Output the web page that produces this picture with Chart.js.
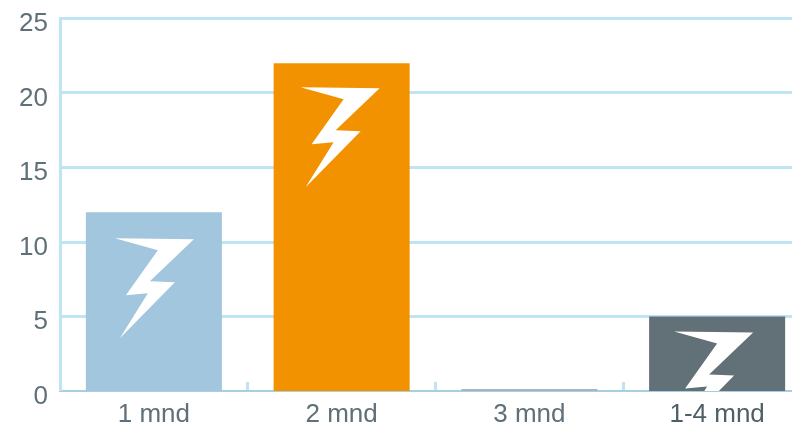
<!DOCTYPE html>
<html>
<head>
<meta charset="utf-8">
<style>
  html, body { margin: 0; padding: 0; background: #fff; overflow: hidden; }
  #wrap { width: 792px; height: 425px; overflow: hidden; }
  canvas { display: block; }
</style>
</head>
<body>
<div id="wrap"><canvas id="grafico" width="811" height="425"></canvas></div>
<script src="https://cdn.jsdelivr.net/npm/chart.js@4"></script>
<script>
let categorias = ["1 mnd", "2 mnd", "3 mnd", "1-4 mnd"];
let valores = [12, 22, 0, 5];
let marcasY = [0, 5, 10, 15, 20, 25];

let coresBarras = ["#a1c6dd", "#f39200", "#a9b4c0", "#627077"];
let corTexto = "#5f7078";
let corGrade = "#bfe4f4";
let fonte = { family: "'Liberation Sans', Arial, sans-serif", size: 26 };

// lightning bolt outline, relative to its own top left corner
let raio = [[0, 0], [79, 1], [35, 43], [60, 44], [5, 100], [33, 55], [11, 57], [43, 12]];
// where the bolt sits inside each bar
let posRaio = [[29, 26], [27, 24], null, [25, 15]];

let desenhaRaios = {
  id: "raios",
  afterDatasetsDraw(chart) {
    let ctx = chart.ctx;
    chart.getDatasetMeta(0).data.forEach((barra, i) => {
      if (!posRaio[i]) return;
      let esq = barra.x - barra.width / 2;
      ctx.save();
      ctx.beginPath();
      ctx.rect(esq, barra.y, barra.width, barra.base - barra.y);
      ctx.clip();
      ctx.fillStyle = "#fff";
      ctx.beginPath();
      raio.forEach(([x, y], n) => {
        let px = esq + posRaio[i][0] + x;
        let py = barra.y + posRaio[i][1] + y;
        if (n === 0) ctx.moveTo(px, py);
        else ctx.lineTo(px, py);
      });
      ctx.closePath();
      ctx.fill();
      ctx.restore();
    });
  }
};

// y labels sit a little below their grid lines
let rotulosY = {
  id: "rotulosY",
  afterDraw(chart) {
    let ctx = chart.ctx;
    let y = chart.scales.y;
    ctx.save();
    ctx.font = `${fonte.size}px ${fonte.family}`;
    ctx.fillStyle = corTexto;
    ctx.textAlign = "right";
    ctx.textBaseline = "middle";
    y.ticks.forEach(t => ctx.fillText(String(t.value), 48, y.getPixelForValue(t.value) + 5.5));
    ctx.restore();
  }
};

let ctx = document.getElementById("grafico").getContext("2d");

let myChart = new Chart(ctx, {
  type: "bar",
  data: {
    labels: categorias,
    datasets: [{
      data: valores,
      backgroundColor: coresBarras,
      barPercentage: 0.7245,
      categoryPercentage: 1,
      minBarLength: 2
    }]
  },
  options: {
    responsive: false,
    animation: false,
    layout: { padding: { top: 18.5 } },
    plugins: { legend: { display: false }, tooltip: { enabled: false } },
    scales: {
      x: {
        afterFit: s => { s.height = 34; },
        grid: { drawOnChartArea: false, color: corGrade, lineWidth: 3, tickLength: -9 },
        border: { color: "#a8cfe0", width: 2 },
        ticks: {
          font: fonte,
          padding: 17,
          maxRotation: 0,
          color: c => (c.index === 3 ? "#4f5f66" : corTexto)
        }
      },
      y: {
        min: 0,
        max: 25,
        afterBuildTicks: s => { s.ticks = marcasY.map(value => ({ value })); },
        afterFit: s => { s.width = 60; },
        // no grid line at zero, the x axis line is there and bars start on it
        grid: { color: corGrade, lineWidth: c => (c.tick.value === 0 ? 0 : 3), drawTicks: false },
        border: { color: corGrade, width: 3 },
        ticks: { display: false }
      }
    }
  },
  plugins: [desenhaRaios, rotulosY]
});
</script>
</body>
</html>
